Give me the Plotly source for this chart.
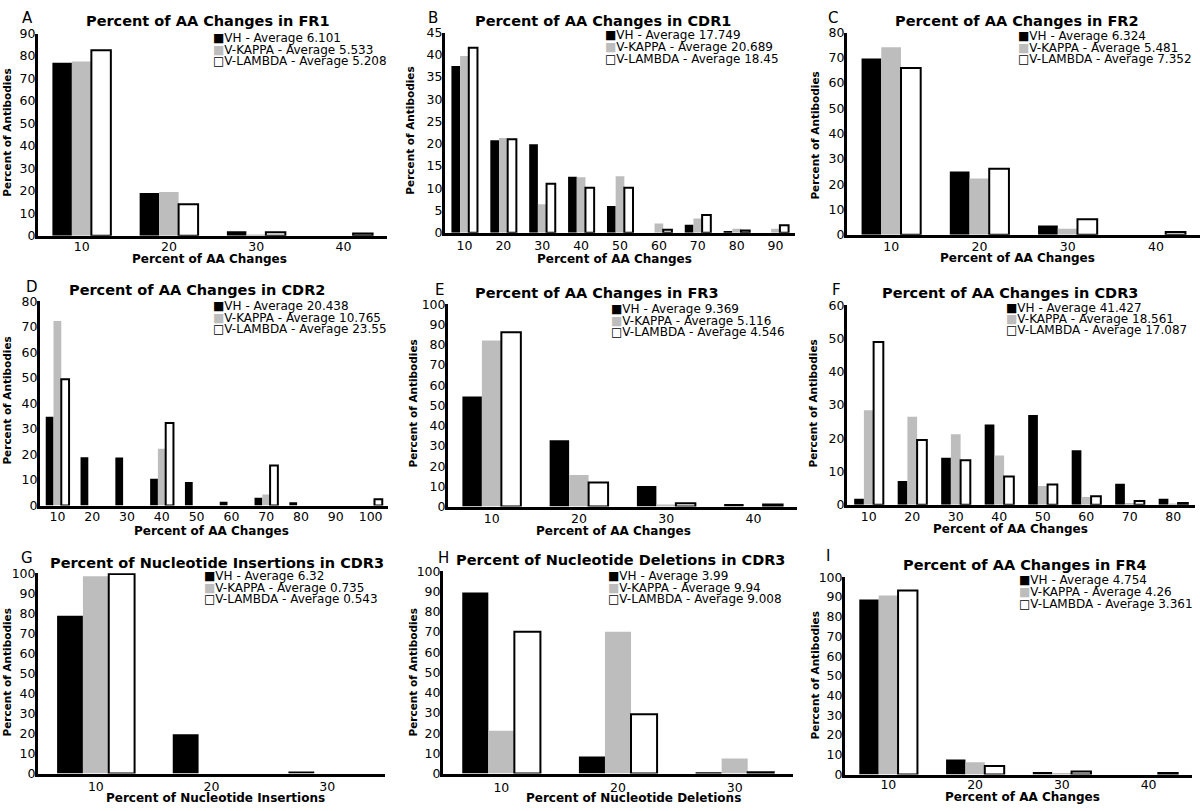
import plotly.graph_objects as go

W, H = 1200, 811
FONT = "DejaVu Sans"

# ---------------- data ----------------
series_names = ["VH", "V-KAPPA", "V-LAMBDA"]

cats_A = ["10", "20", "30", "40"]
A_vh = [77, 19, 2, 0]
A_k = [77.5, 19.5, 0.5, 0]
A_l = [82.5, 14, 1.5, 1]
A_avg = ["6.101", "5.533", "5.208"]

cats_B = ["10", "20", "30", "40", "50", "60", "70", "80", "90"]
B_vh = [37.5, 20.8, 19.9, 12.6, 6.0, 0, 1.8, 0.4, 0]
B_k = [39.7, 21.3, 6.4, 12.5, 12.7, 2.1, 3.2, 0.9, 0.9]
B_l = [41.6, 21.0, 11.0, 10.1, 10.1, 0.7, 4.0, 0.5, 1.7]
B_avg = ["17.749", "20.689", "18.45"]

cats_C = ["10", "20", "30", "40"]
C_vh = [69.7, 25.0, 3.7, 0]
C_k = [74.2, 22.2, 2.4, 0]
C_l = [66.0, 26.1, 6.1, 1.1]
C_avg = ["6.324", "5.481", "7.352"]

cats_D = ["10", "20", "30", "40", "50", "60", "70", "80", "90", "100"]
D_vh = [34.8, 19.0, 18.9, 10.5, 9.3, 1.5, 3.1, 1.3, 0, 0]
D_k = [72.3, 0, 0, 22.3, 0, 0, 4.4, 0, 0, 0]
D_l = [49.5, 0, 0, 32.4, 0, 0, 15.7, 0, 0, 2.5]
D_avg = ["20.438", "10.765", "23.55"]

cats_E = ["10", "20", "30", "40"]
E_vh = [54.5, 32.8, 10.2, 1.3]
E_k = [82.1, 15.6, 1.1, 0]
E_l = [86.2, 11.9, 1.6, 1.1]
E_avg = ["9.369", "5.116", "4.546"]

cats_F = ["10", "20", "30", "40", "50", "60", "70", "80"]
F_vh = [1.8, 7.1, 14.1, 24.1, 27.0, 16.4, 6.3, 1.8]
F_k = [28.4, 26.5, 21.2, 14.8, 5.6, 2.3, 0.5, 0.2]
F_l = [49.0, 19.5, 13.4, 8.5, 6.1, 2.5, 1.1, 0.5]
F_avg = ["41.427", "18.561", "17.087"]

cats_G = ["10", "20", "30"]
G_vh = [78.8, 19.6, 1.0]
G_k = [98.5, 0, 0]
G_l = [99.7, 0, 0]
G_avg = ["6.32", "0.735", "0.543"]

cats_H = ["10", "20", "30"]
H_vh = [89.6, 8.4, 0.6]
H_k = [21.2, 70.2, 7.4]
H_l = [70.1, 29.3, 0.6]
H_avg = ["3.99", "9.94", "9.008"]

cats_I = ["10", "20", "30", "40"]
I_vh = [88.7, 7.6, 1.3, 0]
I_k = [90.8, 6.2, 0.8, 0]
I_l = [93.3, 4.3, 1.6, 0.8]
I_avg = ["4.754", "4.26", "3.361"]

titles = [
    "Percent of AA Changes in FR1", "Percent of AA Changes in CDR1", "Percent of AA Changes in FR2",
    "Percent of AA Changes in CDR2", "Percent of AA Changes in FR3", "Percent of AA Changes in CDR3",
    "Percent of Nucleotide Insertions in CDR3", "Percent of Nucleotide Deletions in CDR3",
    "Percent of AA Changes in FR4",
]
xtitles = ["Percent of AA Changes"] * 6 + ["Percent of Nucleotide Insertions",
                                           "Percent of Nucleotide Deletions",
                                           "Percent of AA Changes"]
ytitle = "Percent of Antibodies"
letters = ["A", "B", "C", "D", "E", "F", "G", "H", "I"]
ymax = [90, 45, 80, 80, 100, 60, 100, 100, 100]
ydtick = [10, 5, 10, 10, 10, 10, 10, 10, 10]

panels = [
    (cats_A, A_vh, A_k, A_l, A_avg), (cats_B, B_vh, B_k, B_l, B_avg), (cats_C, C_vh, C_k, C_l, C_avg),
    (cats_D, D_vh, D_k, D_l, D_avg), (cats_E, E_vh, E_k, E_l, E_avg), (cats_F, F_vh, F_k, F_l, F_avg),
    (cats_G, G_vh, G_k, G_l, G_avg), (cats_H, H_vh, H_k, H_l, H_avg), (cats_I, I_vh, I_k, I_l, I_avg),
]

# ---------------- layout geometry (pixels) ----------------
boxes = [
    (38, 387, 26, 232), (445, 795, 25, 229), (847, 1200, 25, 231),
    (40, 388, 299, 507), (448, 797, 302, 508), (847, 1195, 303, 506),
    (38, 385, 576, 780), (443, 793, 574, 780), (845, 1192, 580, 781),
]
xtick_standoff = [-3, -1, -2, -3, -2, -2, -1, 0, -4]
title_pos = [(208, 13), (603, 13), (1017, 13), (197, 287), (597, 290), (1010, 290),
             (217, 565), (620, 562), (1025, 567)]
letter_pos = [(20, 10), (426, 10), (826, 10), (24, 284), (433, 287), (830, 287),
              (19, 560), (436, 560), (824, 558)]
legend_pos = [(212, 31, 11.5), (604, 27, 12.3), (1017, 29, 11.5), (212, 304, 11.5), (610, 307, 11.5),
              (1005, 306, 11.2), (203, 579, 11.5), (607, 579, 11.5), (1018, 583, 12)]
xtitle_pos = [(209, 256), (614, 256), (1017, 255), (211, 533), (613, 533), (1010, 531),
              (215, 805), (633, 805), (1022, 804)]
ytitle_pos = [(7, 127), (410, 125), (815, 130), (7, 400), (413, 403), (813, 403),
              (7, 677), (413, 677), (815, 680)]


def px(x):
    return x / W


def py(y):
    return 1 - y / H


colors = ["#000000", "#bdbdbd", "#ffffff"]
outline_w = [0, 0, 2]
legend_sym = ["<span style='color:#000000'>■</span>",
              "<span style='color:#bdbdbd'>■</span>",
              "<span style='color:#000000'>□</span>"]

fig = go.Figure()
layout = dict(
    width=W, height=H,
    margin=dict(l=0, r=0, t=0, b=0),
    paper_bgcolor="white", plot_bgcolor="white",
    barmode="group", bargap=0.33, bargroupgap=0,
    showlegend=False,
    font=dict(family=FONT, color="black", size=12),
)
annotations = []

for i, (cats, vh, k, l, avg) in enumerate(panels):
    n = "" if i == 0 else str(i + 1)
    xa, ya = "x" + n, "y" + n
    for j, vals in enumerate([vh, k, l]):
        widths = [outline_w[j] if v > 0 else 0 for v in vals]
        fig.add_trace(go.Bar(
            x=cats, y=vals, name=series_names[j],
            marker=dict(color=colors[j], line=dict(color="black", width=widths)),
            xaxis=xa, yaxis=ya, showlegend=False,
        ))
    x0, x1, yt, yb = boxes[i]
    layout["xaxis" + n] = dict(
        domain=[px(x0), min(px(x1), 1.0)], anchor=ya, type="category",
        showline=True, linewidth=3, linecolor="black", ticks="", showgrid=False,
        zeroline=False, tickfont=dict(size=12.5, family=FONT, color="black"),
        ticklabelstandoff=xtick_standoff[i], fixedrange=True,
    )
    layout["yaxis" + n] = dict(
        domain=[py(yb), py(yt)], anchor=xa, range=[0, ymax[i]], dtick=ydtick[i],
        showline=True, linewidth=3, linecolor="black", ticks="", showgrid=False,
        zeroline=False, tickfont=dict(size=12.5, family=FONT, color="black"),
        ticklabelstandoff=-3, fixedrange=True,
    )
    tx, ty = title_pos[i]
    annotations.append(dict(text="<b>%s</b>" % titles[i], x=px(tx), y=py(ty), xref="paper", yref="paper",
                            xanchor="center", yanchor="middle", showarrow=False,
                            font=dict(size=14.5, family=FONT, color="black")))
    lx, ly = letter_pos[i]
    annotations.append(dict(text=letters[i], x=px(lx), y=py(ly), xref="paper", yref="paper",
                            xanchor="left", yanchor="middle", showarrow=False,
                            font=dict(size=15, family=FONT, color="black")))
    ax_, ay_ = xtitle_pos[i]
    annotations.append(dict(text="<b>%s</b>" % xtitles[i], x=px(ax_), y=py(ay_), xref="paper", yref="paper",
                            xanchor="center", yanchor="middle", showarrow=False,
                            font=dict(size=12, family=FONT, color="black")))
    bx, by = ytitle_pos[i]
    annotations.append(dict(text="<b>%s</b>" % ytitle, x=px(bx), y=py(by), xref="paper", yref="paper",
                            xanchor="center", yanchor="middle", showarrow=False, textangle=-90,
                            font=dict(size=10.5, family=FONT, color="black")))
    gx, gy, gs = legend_pos[i]
    for j in range(3):
        annotations.append(dict(
            text="%s%s - Average %s" % (legend_sym[j], series_names[j], avg[j]),
            x=px(gx), y=py(gy + j * gs), xref="paper", yref="paper",
            xanchor="left", yanchor="middle", showarrow=False, borderpad=0,
            font=dict(size=12, family=FONT, color="black")))

layout["annotations"] = annotations
fig.update_layout(**layout)
fig.write_html(
    "out.html",
    config={"displayModeBar": False},
    post_script=(
        "document.body.style.margin='0px';document.body.style.padding='0px';"
        "document.body.style.overflow='hidden';"
        "var d=document.getElementById('{plot_id}');"
        "d.style.position='absolute';d.style.top='0px';d.style.left='0px';"
    ),
)
